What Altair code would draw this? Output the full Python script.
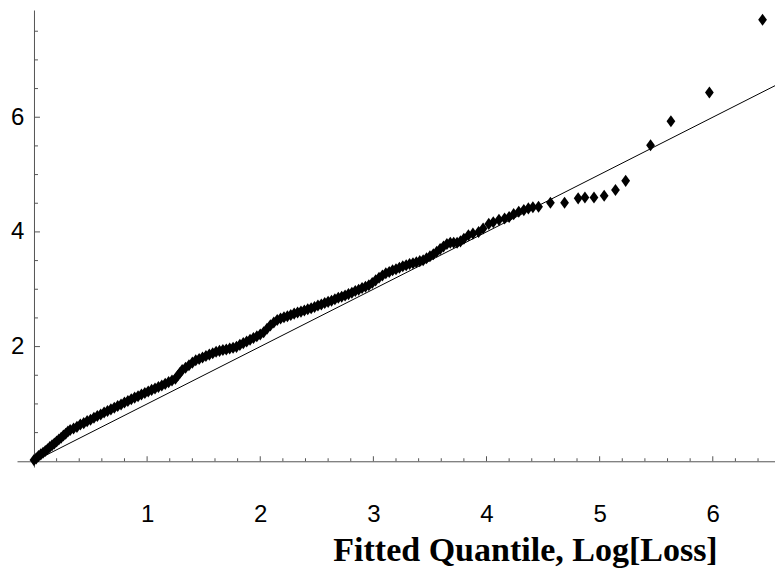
import altair as alt
import pandas as pd

# Q-Q plot: sample quantile (y) vs fitted quantile (x), Log[Loss]
qx = [0.00, 0.02, 0.04, 0.06, 0.08, 0.10, 0.12, 0.14, 0.16, 0.18, 0.20,
      0.22, 0.24, 0.26, 0.28, 0.30, 0.32, 0.35, 0.38, 0.41, 0.44, 0.47,
      0.50, 0.53, 0.56, 0.59, 0.62, 0.65, 0.68, 0.71, 0.74, 0.77, 0.80,
      0.83, 0.86, 0.89, 0.92, 0.95, 0.98, 1.01, 1.04, 1.07, 1.10, 1.13,
      1.16, 1.19, 1.22, 1.25, 1.27, 1.29, 1.31, 1.34, 1.37, 1.40, 1.43,
      1.46, 1.49, 1.52, 1.55, 1.58, 1.61, 1.64, 1.67, 1.70, 1.73, 1.76,
      1.79, 1.82, 1.85, 1.88, 1.91, 1.94, 1.97, 2.00, 2.03, 2.06, 2.09,
      2.12, 2.15, 2.18, 2.21, 2.24, 2.27, 2.30, 2.33, 2.36, 2.39, 2.42,
      2.45, 2.48, 2.51, 2.54, 2.57, 2.60, 2.63, 2.66, 2.69, 2.72, 2.75,
      2.78, 2.81, 2.84, 2.87, 2.90, 2.93, 2.96, 2.99, 3.02, 3.05, 3.08,
      3.11, 3.14, 3.17, 3.20, 3.23, 3.26, 3.29, 3.32, 3.35, 3.38, 3.41,
      3.44, 3.47, 3.50, 3.53, 3.56, 3.59, 3.62, 3.65, 3.68, 3.71, 3.74,
      3.77, 3.80, 3.84, 3.88, 3.93, 3.97, 4.02, 4.06, 4.11, 4.16, 4.20,
      4.24, 4.285, 4.33, 4.37, 4.41, 4.46,
      4.565, 4.69, 4.81, 4.87, 4.95, 5.04, 5.14, 5.23, 5.45, 5.63, 5.97, 6.44]
qy = [0.02, 0.05, 0.09, 0.12, 0.15, 0.18, 0.21, 0.25, 0.28, 0.31, 0.345,
      0.38, 0.41, 0.45, 0.48, 0.52, 0.545, 0.57, 0.60, 0.64, 0.665, 0.70,
      0.725, 0.76, 0.79, 0.815, 0.85, 0.875, 0.905, 0.935, 0.965, 0.99, 1.025,
      1.05, 1.08, 1.11, 1.135, 1.165, 1.19, 1.215, 1.245, 1.27, 1.295, 1.32,
      1.35, 1.38, 1.41, 1.44, 1.49, 1.54, 1.59, 1.63, 1.675, 1.72, 1.76,
      1.785, 1.81, 1.835, 1.86, 1.885, 1.91, 1.925, 1.94, 1.95, 1.965, 1.98,
      1.995, 2.03, 2.06, 2.09, 2.12, 2.15, 2.18, 2.21, 2.25, 2.31, 2.37,
      2.42, 2.465, 2.49, 2.51, 2.53, 2.55, 2.575, 2.595, 2.61, 2.63, 2.65,
      2.67, 2.69, 2.715, 2.735, 2.76, 2.78, 2.80, 2.825, 2.85, 2.87, 2.89,
      2.915, 2.94, 2.97, 2.99, 3.02, 3.045, 3.07, 3.11, 3.155, 3.20, 3.24,
      3.28, 3.30, 3.33, 3.35, 3.375, 3.40, 3.42, 3.44, 3.455, 3.47, 3.49,
      3.505, 3.54, 3.575, 3.61, 3.655, 3.70, 3.745, 3.79, 3.81, 3.81, 3.81,
      3.835, 3.88, 3.94, 3.97, 4.00, 4.06, 4.14, 4.17, 4.21, 4.235, 4.26,
      4.31, 4.35, 4.38, 4.41, 4.43, 4.44,
      4.51, 4.51, 4.585, 4.60, 4.60, 4.63, 4.73, 4.89, 5.51, 5.93, 6.43, 7.70]

ref_x = [0.0, 6.55]
ref_y = [0.0, 6.55]

x_major = [1, 2, 3, 4, 5, 6]
x_minor = [0.2, 0.4, 0.6, 0.8, 1.2, 1.4, 1.6, 1.8, 2.2, 2.4, 2.6, 2.8,
           3.2, 3.4, 3.6, 3.8, 4.2, 4.4, 4.6, 4.8, 5.2, 5.4, 5.6, 5.8,
           6.2, 6.4]
y_major = [2, 4, 6]
y_minor = [0.5, 1.0, 1.5, 2.5, 3.0, 3.5, 4.5, 5.0, 5.5, 6.5, 7.0, 7.5]

x_title = "Fitted Quantile, Log[Loss]"

W, H = 758, 457
XD = [-0.15, 6.55]
YD = [-0.1, 7.87]
x0_px = W * (0 - XD[0]) / (XD[1] - XD[0])
y0_px = H * (0 - YD[0]) / (YD[1] - YD[0])

xs = alt.Scale(domain=XD, nice=False, zero=False)
ys = alt.Scale(domain=YD, nice=False, zero=False)
AX = "#555555"

x_axis = alt.Axis(
    values=x_major, format="d", ticks=False, tickSize=0, grid=False,
    domainColor=AX, domainWidth=1, offset=-y0_px,
    labelFont="Liberation Sans", labelFontSize=24, labelColor="black",
    labelPadding=41, labelFlush=False, labelOverlap=False,
    title=x_title, titleFont="Liberation Serif", titleFontSize=34,
    titleFontWeight="bold", titleColor="black", titleX=508, titleY=99,
    titleAlign="center", titleBaseline="alphabetic")
y_axis = alt.Axis(
    values=y_major, format="d", ticks=False, tickSize=0, grid=False,
    domainColor=AX, domainWidth=1, offset=-x0_px,
    labelFont="Liberation Sans", labelFontSize=24, labelColor="black",
    labelPadding=10, labelFlush=False, labelOverlap=False, title=None)


def enc(ch):
    return ch.encode(x=alt.X("x:Q", scale=xs, axis=x_axis),
                     y=alt.Y("y:Q", scale=ys, axis=y_axis))


pts = pd.DataFrame({"x": qx, "y": qy})
ref = pd.DataFrame({"x": ref_x, "y": ref_y})

points = enc(alt.Chart(pts).mark_point(
    shape="M0,-1.1L0.8,0L0,1.1L-0.8,0Z", filled=True, color="black",
    opacity=1, size=120, strokeWidth=0))

line = enc(alt.Chart(ref).mark_line(color="black", strokeWidth=1, clip=True))


def xticks(vals, size):
    df = pd.DataFrame({"x": vals, "y": [0] * len(vals)})
    return enc(alt.Chart(df).mark_tick(
        orient="vertical", size=size, thickness=1, color=AX, opacity=1,
        yOffset=-size / 2))


def yticks(vals, size):
    df = pd.DataFrame({"y": vals, "x": [0] * len(vals)})
    return enc(alt.Chart(df).mark_tick(
        orient="horizontal", size=size, thickness=1, color=AX, opacity=1,
        xOffset=size / 2))


chart = alt.layer(
    xticks(x_major, 5), xticks(x_minor, 3),
    yticks(y_major, 6), yticks(y_minor, 4),
    points,
    line,
).properties(
    width=W, height=H,
    padding={"left": 17, "top": 10, "right": 0, "bottom": 107},
    autosize=alt.AutoSizeParams(type="none"),
    background="white",
).configure_view(stroke=None)

chart.save("out.html", embed_options={"renderer": "svg", "actions": False})
